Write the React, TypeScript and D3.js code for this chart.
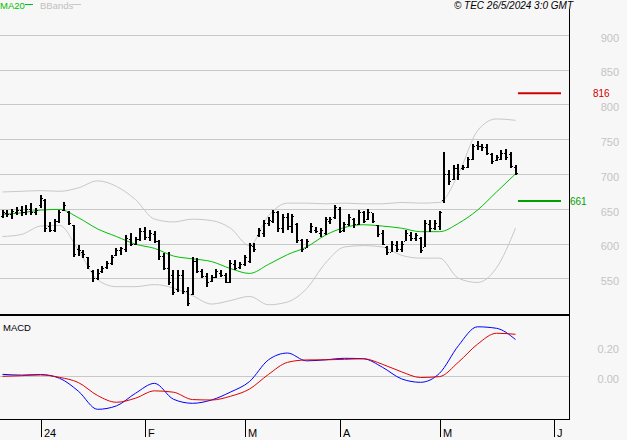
import React from 'react';
import * as d3 from 'd3';

// ---- Data (daily OHLC, trading-day index 0..108; last bar = 24 May 2024) ----
const HIGH = [648,648,649,653,654,655,658,651,670,664, 631,635,648,659,646,627,598,591,581,562, 563,567,575,583,593,595,612,615,610,622, 623,619,618,605,586,588,562,562,562,538, 580,579,564,557,555,564,562,557,576,576, 574,583,601,601,622,634,638,648,646,643, 644,643,629,607,607,629,624,622,638,638, 656,653,631,642,636,648,647,649,644,627, 619,596,604,603,603,620,617,615,610,634, 634,634,647,731,706,713,714,713,725,743, 747,743,743,730,727,734,736,731,713];
const LOW = [636,638,635,641,640,641,641,641,651,617, 616,617,629,646,627,581,582,579,564,544, 547,557,564,569,582,583,588,596,598,603, 605,603,601,577,562,540,526,531,528,510, 526,557,550,538,545,550,552,543,543,562, 564,567,572,588,610,610,625,629,617,615, 620,615,601,588,593,615,615,610,612,628, 635,615,617,625,622,627,629,634,629,610, 598,583,588,588,588,603,603,603,586,595, 617,619,619,658,684,691,691,706,708,720, 734,733,727,714,718,720,720,708,698];
const OPEN = [640,644,642,645,648,645,650,645,655,662, 625,620,632,648,645,627,592,588,580,560, 550,560,566,572,584,590,592,606,600,606, 618,610,614,603,582,565,555,535,555,532, 528,575,560,553,546,552,558,555,545,570, 566,570,575,596,612,615,630,632,645,622, 638,625,628,605,593,618,620,615,615,632, 638,650,620,628,635,628,645,635,645,627, 615,595,588,598,592,603,612,608,608,595, 628,622,625,662,700,692,708,708,710,722, 742,740,738,728,720,722,730,728,710];
const CLOSE = [645,642,646,648,645,650,645,648,665,622, 620,632,645,655,630,585,590,585,568,550, 558,565,572,580,590,593,608,600,607,618, 610,615,604,582,565,545,530,555,532,515, 575,560,553,545,552,560,555,545,572,565, 570,580,598,592,620,630,634,645,622,638, 625,640,605,592,604,625,618,620,635,635, 652,618,628,638,628,645,632,645,632,614, 600,588,600,592,600,615,608,612,590,630, 622,630,645,700,690,708,700,710,722,740, 740,738,730,718,724,730,725,712,702];

// Indicator readings sampled every 4 trading days
const SAMPLE_IDX = [0,4,8,12,16,20,24,28,32,36,40,44,48,52,56,60,64,68,72,76,80,84,88,92,96,100,104,108];
const MA20 = [642,644,648,649,637,621,610,599,593,582,578,574,564,557,570,584,595,612,623,627,625,622,617,617,629,648,674,700];
const BB_UPPER = [674,675,676,675,680,690,682,663,635,631,635,633,622,597,640,658,658,657,658,657,657,659,658,659,700,762,779,777];
const BB_LOWER = [610,613,625,626,590,548,538,538,541,536,525,513,518,524,512,516,535,572,595,597,595,583,579,579,550,544,565,622];
const MACD = [0.013,0.008,0.012,-0.013,-0.10,-0.22,-0.197,-0.113,-0.047,-0.153,-0.18,-0.158,-0.105,-0.035,0.11,0.155,0.103,0.11,0.12,0.117,0.06,-0.017,-0.04,0.02,0.205,0.33,0.32,0.245];
const SIGNAL = [0.0,0.004,0.009,-0.007,-0.042,-0.128,-0.173,-0.146,-0.097,-0.106,-0.155,-0.158,-0.133,-0.085,0.013,0.093,0.109,0.11,0.113,0.117,0.08,0.03,-0.008,-0.002,0.095,0.214,0.287,0.28];

const PRICE_TICKS = [550,600,650,700,750,800,850,900];
const MACD_TICKS = [0, 0.2];
const MONTH_LABELS = ['24','F','M','A','M','J'];
const MONTH_IDX = [8,30,51,71,92,116];
const RESISTANCE = 816;
const SUPPORT = 661;

const W = 627, H = 440;
const PANEL_R = 569;
const FONT = '"Liberation Sans", Arial, sans-serif';

export default function App() {
  const x = d3.scaleLinear().domain([0, 108]).range([2.5, 515.5]);
  const y = d3.scaleLinear().domain([550, 900]).range([278.3, 34.7]);
  const ym = d3.scaleLinear().domain([0, 0.2]).range([376.3, 346.3]);

  const priceLine = d3.line<number>()
    .x((_, i) => x(SAMPLE_IDX[i]))
    .y(d => y(d))
    .curve(d3.curveMonotoneX);
  const macdLine = d3.line<number>()
    .x((_, i) => x(SAMPLE_IDX[i]))
    .y(d => ym(d))
    .curve(d3.curveMonotoneX);

  const px = (i: number) => Math.round(x(i));

  return (
    <svg width={W} height={H} style={{ position: 'absolute', left: 0, top: 0, background: '#f7f7f7' }}
      fontFamily={FONT}>
      <rect x={0} y={0} width={W} height={H} fill="#f7f7f7" />
      {/* price grid */}
      {PRICE_TICKS.map(t => (
        <g key={t}>
          <line x1={0} x2={PANEL_R} y1={Math.round(y(t)) + 0.5} y2={Math.round(y(t)) + 0.5} stroke="#c8c8c8" strokeWidth={1} />
          <text x={619} y={y(t) + 4} textAnchor="end" dominantBaseline="middle" fontSize={11} fill="#c4c4c4">{t}</text>
        </g>
      ))}
      {/* Bollinger bands */}
      <path d={priceLine(BB_UPPER) || ''} fill="none" stroke="#c8c8c8" strokeWidth={1} />
      <path d={priceLine(BB_LOWER) || ''} fill="none" stroke="#c8c8c8" strokeWidth={1} />
      {/* MA20 */}
      <path d={priceLine(MA20) || ''} fill="none" stroke="#00c000" strokeWidth={1} />
      {/* OHLC bars */}
      <g shapeRendering="crispEdges" fill="#000">
        {HIGH.map((h, i) => {
          const cx = px(i);
          const yh = Math.round(y(h));
          const yl = Math.round(y(LOW[i]));
          return (
            <g key={i}>
              <rect x={cx - 1} y={yh} width={2} height={Math.max(1, yl - yh)} />
              <rect x={cx - 2} y={Math.round(y(OPEN[i]))} width={1} height={1} />
              <rect x={cx + 1} y={Math.round(y(CLOSE[i]))} width={1} height={1} />
            </g>
          );
        })}
      </g>
      {/* level lines */}
      <line x1={518} x2={561} y1={y(RESISTANCE)} y2={y(RESISTANCE)} stroke="#d00000" strokeWidth={2} />
      <text x={593} y={y(RESISTANCE) + 1} dominantBaseline="middle" fontSize={10} fill="#d00000">{RESISTANCE}</text>
      <line x1={518} x2={561} y1={y(SUPPORT)} y2={y(SUPPORT)} stroke="#00a000" strokeWidth={2} />
      <text x={570} y={y(SUPPORT) + 1} dominantBaseline="middle" fontSize={10} fill="#00a000">{SUPPORT}</text>

      {/* legend */}
      <text x={0} y={9} fontSize={9.5} fill="#00c000">MA20</text>
      <line x1={25} x2={33} y1={4.5} y2={4.5} stroke="#00c000" strokeWidth={1} />
      <text x={40} y={9} fontSize={9.5} fill="#c0c0c0">BBands</text>
      <line x1={72} x2={81} y1={4.5} y2={4.5} stroke="#c8c8c8" strokeWidth={1} />
      <text x={573} y={9} textAnchor="end" fontSize={10} fontStyle="italic" fill="#000">© TEC 26/5/2024 3:0 GMT</text>

      {/* separator between panels */}
      <rect x={0} y={314} width={PANEL_R} height={2} fill="#000" />

      {/* MACD panel */}
      <text x={3} y={331} fontSize={9.5} fill="#000">MACD</text>
      {MACD_TICKS.map(t => (
        <text key={t} x={619} y={ym(t) + 4} textAnchor="end" dominantBaseline="middle" fontSize={11} fill="#c4c4c4">{t.toFixed(2)}</text>
      ))}
      <line x1={0} x2={PANEL_R} y1={Math.round(ym(0)) + 0.5} y2={Math.round(ym(0)) + 0.5} stroke="#c8c8c8" strokeWidth={1} />
      <path d={macdLine(MACD) || ''} fill="none" stroke="#0000ff" strokeWidth={1} />
      <path d={macdLine(SIGNAL) || ''} fill="none" stroke="#e00000" strokeWidth={1} />
      <line x1={0} x2={PANEL_R} y1={419.5} y2={419.5} stroke="#000" strokeWidth={1} />

      {/* right border */}
      <line x1={PANEL_R + 0.5} x2={PANEL_R + 0.5} y1={9} y2={420} stroke="#000" strokeWidth={1} />

      {/* month ticks */}
      {MONTH_IDX.map((m, k) => (
        <g key={k}>
          <line x1={px(m) + 0.5} x2={px(m) + 0.5} y1={420} y2={437} stroke="#000" strokeWidth={1} />
          <text x={px(m) + 3} y={437} fontSize={11} fill="#000">{MONTH_LABELS[k]}</text>
        </g>
      ))}
    </svg>
  );
}
